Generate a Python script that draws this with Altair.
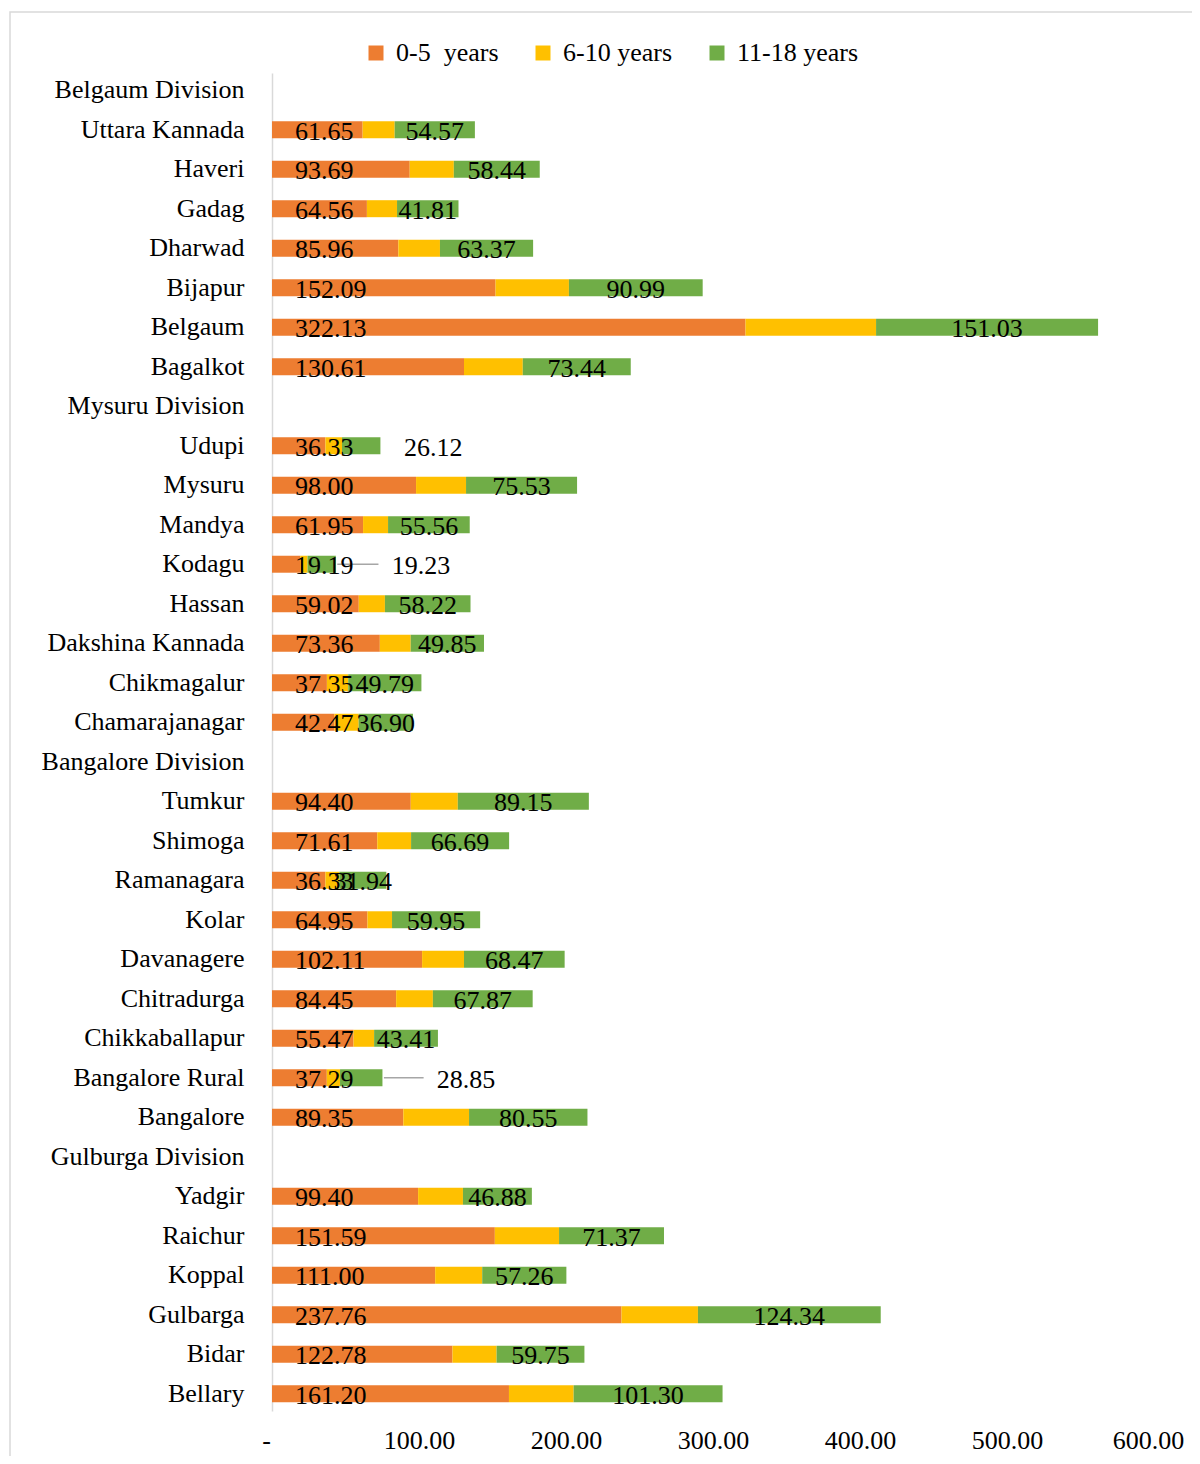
import altair as alt
import pandas as pd

FONT = "Liberation Serif"
FS = 26

# Row order (top to bottom), including division header rows that have no bars
rows = [
    "Belgaum Division", "Uttara Kannada", "Haveri", "Gadag", "Dharwad", "Bijapur", "Belgaum", "Bagalkot",
    "Mysuru Division", "Udupi", "Mysuru", "Mandya", "Kodagu", "Hassan", "Dakshina Kannada", "Chikmagalur",
    "Chamarajanagar",
    "Bangalore Division", "Tumkur", "Shimoga", "Ramanagara", "Kolar", "Davanagere", "Chitradurga",
    "Chikkaballapur", "Bangalore Rural", "Bangalore",
    "Gulburga Division", "Yadgir", "Raichur", "Koppal", "Gulbarga", "Bidar", "Bellary",
]

districts = [
    "Uttara Kannada", "Haveri", "Gadag", "Dharwad", "Bijapur", "Belgaum", "Bagalkot",
    "Udupi", "Mysuru", "Mandya", "Kodagu", "Hassan", "Dakshina Kannada", "Chikmagalur", "Chamarajanagar",
    "Tumkur", "Shimoga", "Ramanagara", "Kolar", "Davanagere", "Chitradurga", "Chikkaballapur",
    "Bangalore Rural", "Bangalore",
    "Yadgir", "Raichur", "Koppal", "Gulbarga", "Bidar", "Bellary",
]
age_0_5 = [
    61.65, 93.69, 64.56, 85.96, 152.09, 322.13, 130.61,
    36.33, 98.00, 61.95, 19.19, 59.02, 73.36, 37.35, 42.47,
    94.40, 71.61, 36.33, 64.95, 102.11, 84.45, 55.47, 37.29, 89.35,
    99.40, 151.59, 111.00, 237.76, 122.78, 161.20,
]
age_6_10 = [
    21.8, 30.0, 20.5, 28.3, 49.9, 88.8, 40.0,
    11.3, 34.0, 17.0, 5.0, 17.8, 21.0, 14.5, 16.5,
    32.0, 23.0, 9.5, 16.7, 28.5, 25.0, 14.0, 9.0, 44.7,
    30.5, 43.7, 32.0, 52.0, 30.0, 44.0,
]
age_11_18 = [
    54.57, 58.44, 41.81, 63.37, 90.99, 151.03, 73.44,
    26.12, 75.53, 55.56, 19.23, 58.22, 49.85, 49.79, 36.90,
    89.15, 66.69, 31.94, 59.95, 68.47, 67.87, 43.41, 28.85, 80.55,
    46.88, 71.37, 57.26, 124.34, 59.75, 101.30,
]

series = ["0-5\u00a0 years", "6-10 years", "11-18 years"]
colors = ["#ED7D31", "#FFC000", "#70AD47"]
x_ticks = [0, 100, 200, 300, 400, 500, 600]

# labels for small segments placed outside the bar (gap in data units), and which get a leader line
outside_gap = {"Udupi": 16, "Kodagu": 38, "Bangalore Rural": 37}
leader = ["Kodagu", "Bangalore Rural"]

wide = pd.DataFrame({"district": districts, "a": age_0_5, "b": age_6_10, "c": age_11_18})
wide["gap"] = wide["district"].map(outside_gap).fillna(0)
wide["leader"] = wide["district"].isin(leader)

long = pd.concat(
    [
        pd.DataFrame({"district": districts, "series": series[i], "order": i, "value": vals})
        for i, vals in enumerate([age_0_5, age_6_10, age_11_18])
    ],
    ignore_index=True,
)

yscale = alt.Scale(domain=rows, paddingInner=0.57, paddingOuter=0.22, round=False)
xscale = alt.Scale(domain=[0, 600], nice=False)
Y = alt.Y("district:N", scale=yscale, sort=rows, title=None)

bars = alt.Chart(long).mark_bar().encode(
    y=Y,
    x=alt.X("value:Q", stack="zero", scale=xscale, title=None,
            axis=alt.Axis(values=x_ticks,
                          labelExpr="datum.value == 0 ? '-' : format(datum.value, ',.2f')",
                          labelOffset={"condition": {"test": "datum.value == 0 || datum.value == 600",
                                                     "value": -6}, "value": 0})),
    color=alt.Color("series:N", scale=alt.Scale(domain=series, range=colors),
                    legend=alt.Legend(orient="none", legendX=91, legendY=-33, direction="horizontal",
                                      title=None, symbolType="square", symbolSize=225,
                                      symbolStrokeWidth=0, labelFont=FONT, labelFontSize=FS,
                                      labelColor="#000000", labelOffset=7, columnPadding=31)),
    order=alt.Order("order:Q"),
)

text_common = dict(font=FONT, fontSize=FS, color="#000000", baseline="middle", dy=2)

orange_lbl = alt.Chart(wide).transform_calculate(zero="0").mark_text(
    align="left", dx=23, **text_common
).encode(
    y=Y,
    x=alt.X("zero:Q", scale=xscale),
    text=alt.Text("a:Q", format=".2f"),
)

green_in = alt.Chart(wide).transform_filter("datum.gap == 0").transform_calculate(
    mid="datum.a + datum.b + datum.c / 2"
).mark_text(align="center", **text_common).encode(
    y=Y,
    x=alt.X("mid:Q", scale=xscale),
    text=alt.Text("c:Q", format=".2f"),
)

green_out = alt.Chart(wide).transform_filter("datum.gap > 0").transform_calculate(
    pos="datum.a + datum.b + datum.c + datum.gap"
).mark_text(align="left", **text_common).encode(
    y=Y,
    x=alt.X("pos:Q", scale=xscale),
    text=alt.Text("c:Q", format=".2f"),
)

leaders = alt.Chart(wide).transform_filter("datum.leader").transform_calculate(
    x0="datum.a + datum.b + datum.c + 1", x1="datum.a + datum.b + datum.c + datum.gap - 9"
).mark_rule(color="#a6a6a6", strokeWidth=1.5).encode(
    y=Y,
    x=alt.X("x0:Q", scale=xscale),
    x2="x1:Q",
)

frame = alt.Chart(pd.DataFrame({"f": [0]})).mark_rect(
    fillOpacity=0, stroke="#d9d9d9", strokeWidth=1.5
).encode(
    x=alt.value(-262), x2=alt.value(960), y=alt.value(-61), y2=alt.value(1450)
)

chart = alt.layer(frame, bars, leaders, orange_lbl, green_in, green_out).properties(
    width=882,
    height=1338,
    autosize=alt.AutoSizeParams(type="none"),
    padding={"left": 264, "top": 65, "right": 38, "bottom": 45},
    background="#ffffff",
).configure_view(stroke=None).configure_axisY(
    labelFont=FONT, labelFontSize=FS, labelColor="#000000", labelPadding=28, ticks=False,
    domainColor="#d9d9d9", domainWidth=1.5, labelLimit=0, grid=False,
).configure_axisX(
    labelFont=FONT, labelFontSize=FS, labelColor="#000000", labelPadding=16, ticks=False,
    domain=False, grid=False, labelFlush=False, labelOverlap=False,
)

chart.save("out.html", embed_options={"renderer": "svg", "actions": False})
